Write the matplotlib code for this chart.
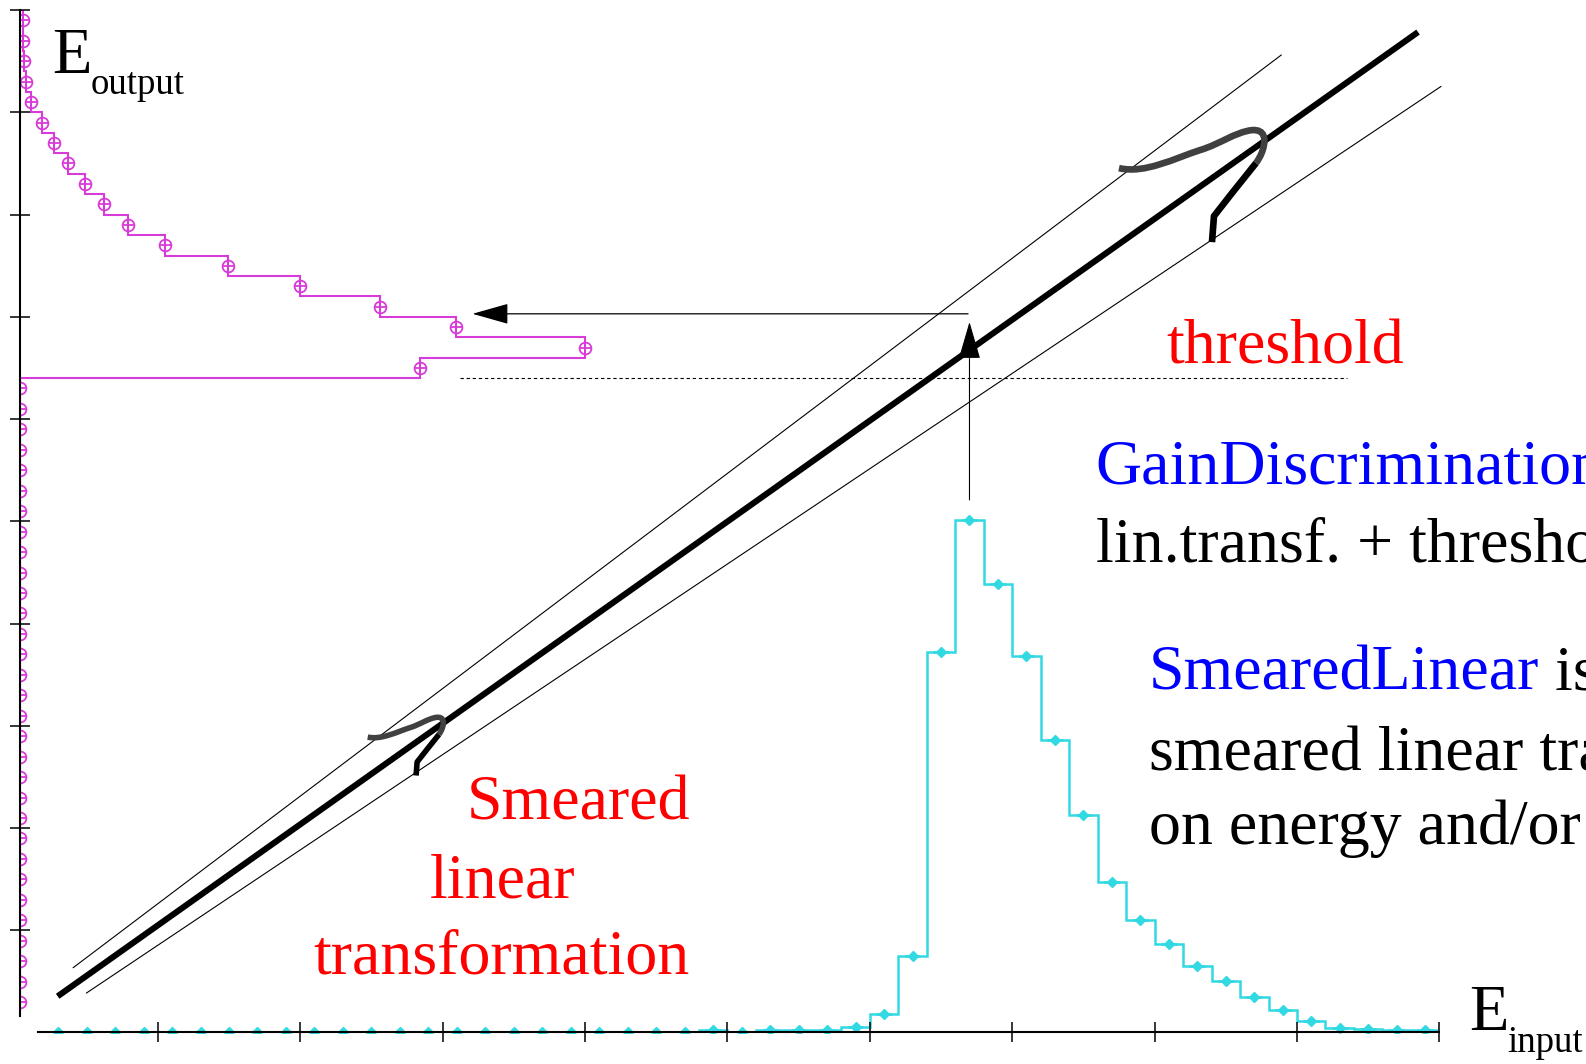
#!/usr/bin/env python3
"""Smeared linear transformation sketch: input spectrum, transfer line, output spectrum."""
import numpy as np
import matplotlib
matplotlib.use("Agg")
import matplotlib.pyplot as plt
import matplotlib.transforms as mtransforms
from matplotlib.path import Path
from matplotlib.patches import PathPatch

W, H = 1586, 1064
SERIF = "Liberation Serif"
CYAN = "#33d9e2"
MAGENTA = "#d83cd8"
BLUE = "#0000ff"
RED = "#ff0000"

# --- data --------------------------------------------------------------
bin_edges = np.linspace(0.2, 10.0, 50)        # 0.2 wide bins, both spectra

input_counts = [
    0, 0, 0, 0, 0, 0, 0, 0, 0, 0, 0, 0, 0, 0, 0, 0, 0, 0, 0, 0, 0, 0, 0,
    2, 0, 2, 2, 2, 5,
    18, 76, 380, 512, 448, 376, 292, 217, 150, 112,
    88, 66, 51, 35, 22, 11, 4, 3, 2, 2,
]
output_counts = [
    0, 0, 0, 0, 0, 0, 0, 0, 0, 0, 0, 0, 0, 0, 0, 0,
    0, 0, 0, 0, 0, 0, 0, 0, 0, 0, 0, 0, 0, 0, 0,
    400, 565, 436, 360, 280, 208, 145, 108, 84, 65,
    48, 34, 22, 11, 6, 4, 3, 3,
]

# transfer lines  E_out = gain * E_in + offset, drawn over [u_from, u_to]
gain_mid, off_mid, span_mid = 0.987, 0.063, (0.297, 9.85)
gain_hi, off_hi, span_hi = 1.052, 0.209, (0.403, 8.892)
gain_lo, off_lo, span_lo = 0.932, -0.077, (0.496, 10.014)
threshold, thr_span = 6.4, (3.12, 9.35)
peak_e = 6.7

# hand-drawn "smearing" curl, px offsets from a point on the line (y down)
CURL_GRAY = [(-141, 24), (-115, 30), (-85, 14), (-60, 6), (-40, 0), (-25, -12),
             (-8, -14), (5, -15), (6, -5), (3, 5), (1, 12), (-2, 16), (-4, 19)]
CURL_BLACK = [(-4, 19), (-28, 49), (-46, 72), (-48, 98)]

# --- layout ------------------------------------------------------------
fig = plt.figure(figsize=(W / 100, H / 100), dpi=100)
fig.patch.set_facecolor("white")
y0 = 1 - 1032.7 / H
hgt = (1032.7 - 10.1) / H
rect = [15.4 / W, y0, 1424 / W, hgt]

# input spectrum (cyan) along the E_input axis
ax_c = fig.add_axes(rect)
ax_c.patch.set_visible(False)
ax_c.set_xlim(0, 10)
ax_c.set_ylim(-1, 1021.6)
for s in ("top", "right", "left"):
    ax_c.spines[s].set_visible(False)
ax_c.spines["bottom"].set_position(("data", 0))
ax_c.spines["bottom"].set_bounds(0.16, 10)
ax_c.spines["bottom"].set_linewidth(1.5)
ax_c.spines["bottom"].set_zorder(3)
ax_c.set_xticks(range(1, 11))
ax_c.set_yticks([])
ax_c.tick_params(axis="x", direction="inout", length=14.5, width=1.1,
                 labelbottom=False)
centers = 0.5 * (bin_edges[:-1] + bin_edges[1:])
ax_c.stairs(input_counts, bin_edges, color=CYAN, lw=1.8, baseline=0)
ax_c.errorbar(centers, input_counts, xerr=0.055, fmt="D", ms=5, color=CYAN,
              elinewidth=2.0, capsize=0, zorder=2)

# output spectrum (magenta) along the E_output axis
ax_m = fig.add_axes([19.8 / W, y0, 700 / W, hgt])
ax_m.patch.set_visible(False)
ax_m.set_ylim(0, 10)
ax_m.set_xlim(0, 700)
for s in ("top", "right", "bottom"):
    ax_m.spines[s].set_visible(False)
ax_m.spines["left"].set_bounds(0.16, 10)
ax_m.spines["left"].set_linewidth(1.5)
ax_m.set_yticks(range(1, 11))
ax_m.set_xticks([])
ax_m.tick_params(axis="y", direction="inout", length=14.5, width=1.1,
                 labelleft=False)
ax_m.stairs(output_counts, bin_edges, orientation="horizontal",
            color=MAGENTA, lw=1.5)
ax_m.plot(output_counts, centers, "o", mfc="none", mec=MAGENTA, ms=8.5, mew=1.3)
ax_m.plot(output_counts, centers, "+", color=MAGENTA, ms=8.5, mew=1.3)

# transfer function, threshold and arrows in (E_input, E_output) units
ax = fig.add_axes(rect)
ax.patch.set_visible(False)
ax.set_xlim(0, 10)
ax.set_ylim(0, 10)
ax.axis("off")
for g, o, span, lw in ((gain_hi, off_hi, span_hi, 0.8),
                       (gain_lo, off_lo, span_lo, 0.8),
                       (gain_mid, off_mid, span_mid, 4.4)):
    u = np.array(span)
    ax.plot(u, g * u + o, color="k", lw=lw, clip_on=False, solid_capstyle="butt")
ax.plot(thr_span, [threshold, threshold], color="k", lw=0.8, dashes=(3, 2.5),
        clip_on=False)

ax.annotate("", xy=(peak_e, 6.95), xytext=(peak_e, 5.21),
            arrowprops=dict(arrowstyle="-|>,head_length=24,head_width=7",
                            mutation_scale=1, lw=0.8, color="k",
                            shrinkA=0, shrinkB=0))
ax.annotate("", xy=(3.21, 7.03), xytext=(6.69, 7.03),
            arrowprops=dict(arrowstyle="-|>,head_length=23,head_width=6.5",
                            mutation_scale=1, lw=0.9, color="k",
                            shrinkA=0, shrinkB=0))


def curl(u_a, scale, lw):
    v_a = gain_mid * u_a + off_mid
    tr = (mtransforms.Affine2D().scale(scale, -scale)
          + mtransforms.ScaledTranslation(u_a, v_a, ax.transData))
    gray = Path(CURL_GRAY, [Path.MOVETO] + [Path.CURVE4] * (len(CURL_GRAY) - 1))
    black = Path(CURL_BLACK)
    ax.add_artist(PathPatch(gray, transform=tr, fill=False, ec="#404040",
                            lw=lw, capstyle="butt", clip_on=False, zorder=5))
    ax.add_artist(PathPatch(black, transform=tr, fill=False, ec="k",
                            lw=lw, capstyle="butt", joinstyle="round",
                            clip_on=False, zorder=5))


curl(8.74, 1.0, 4.8)
curl(2.989, 0.52, 4.0)

# --- text (figure pixels) -----------------------------------------------
ov = fig.add_axes([0, 0, 1, 1])
ov.patch.set_visible(False)
ov.set_xlim(0, W)
ov.set_ylim(H, 0)
ov.axis("off")

big = dict(family=SERIF, fontsize=46, va="baseline", ha="left")
ov.text(52.6, 72.8, "E", family=SERIF, fontsize=46.5, va="baseline")
ov.text(91, 94, "output", family=SERIF, fontsize=26.5, va="baseline")
ov.text(1469, 1029.7, "E", family=SERIF, fontsize=46.5, va="baseline")
ov.text(1507, 1052, "input", family=SERIF, fontsize=26.5, va="baseline")

ov.text(1166, 364, "threshold", color=RED, **big)
ov.text(1095.5, 483.5, "GainDiscrimination", color=BLUE, **big)
ov.text(1095.5, 561, "lin.transf. + threshold", color="k", **big)
t = ov.text(1149, 689, "SmearedLinear", color=BLUE, **big)
ov.annotate(" is a", xy=(1, 0), xycoords=t, va="bottom", ha="left",
            family=SERIF, fontsize=46, color="k")
ov.text(1149, 769, "smeared linear transformation", color="k", **big)
ov.text(1149, 843.6, "on energy and/or time", color="k", **big)

ov.text(467, 819, "Smeared", color=RED, **big)
ov.text(430, 897, "linear", color=RED, **big)
ov.text(313.5, 974, "transformation", color=RED, **big)

fig.savefig("out.png", dpi=100)
